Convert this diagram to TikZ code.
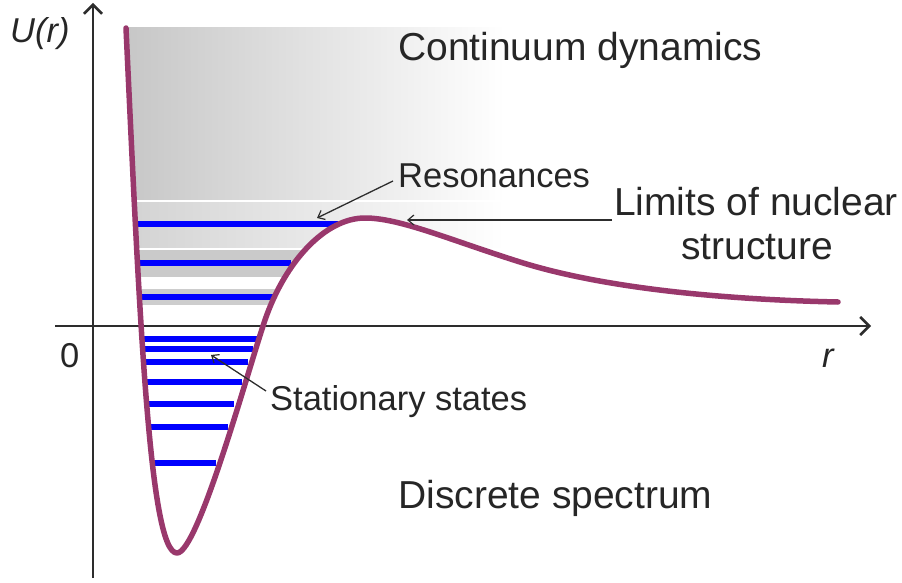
\documentclass[tikz,border=0pt]{standalone}
\usepackage{fontspec}
\setmainfont{Liberation Sans}
\usetikzlibrary{arrows.meta}
\definecolor{curvecol}{RGB}{153,56,108}
\definecolor{txt}{RGB}{38,38,38}
\definecolor{axcol}{RGB}{45,45,45}
\definecolor{lvl}{RGB}{0,0,255}
\definecolor{gA}{RGB}{198,198,198}
\definecolor{gB}{RGB}{210,210,210}
\definecolor{gC}{RGB}{202,202,202}
\definecolor{gD}{RGB}{205,205,205}
\tikzset{
  axisline/.style={draw=axcol,line width=2.7pt,-{Straight Barb[length=9pt,width=18pt,line width=2.5pt]}},
  pointer/.style={draw=axcol,line width=1.3pt,-{Straight Barb[length=6pt,width=10pt,line width=1.2pt]}},
  level/.style={draw=lvl,line width=5.2pt},
  potential/.style={draw=curvecol,line width=5.5pt,line join=round,line cap=round},
  bigtext/.style={text=txt,inner sep=0pt,font=\fontsize{39}{45}\selectfont},
  midtext/.style={text=txt,inner sep=0pt,font=\fontsize{34.5}{40}\selectfont},
}
\begin{document}
\begin{tikzpicture}[x=1pt,y=-1pt]
\useasboundingbox (0,0) rectangle (902,583);
\def\wellcurve{(126,28) .. controls (140,330) and (150,553) .. (177,553)
  .. controls (198,553) and (248,370) .. (265,320)
  .. controls (285,262) and (325,218) .. (365,218)
  .. controls (400,218) and (450,240) .. (520,262)
  .. controls (611,290.6) and (740,300) .. (838,302)}
% shaded regions above the potential
\begin{scope}
\clip \wellcurve -- (838,0) -- (126,0) -- cycle;
\shade[left color=gA,right color=white] (120,28) rectangle (505,199);
\shade[left color=gB,right color=white] (120,202) rectangle (505,247);
\fill[gC] (120,250) rectangle (330,277);
\fill[gD] (120,289) rectangle (310,305);
\end{scope}
% axes
\coordinate (yb) at (93,578);
\coordinate (yt) at (93,3);
\coordinate (xl) at (55,326);
\coordinate (xr) at (871,326);
\draw[axisline] (yb) -- (yt);
\draw[axisline] (xl) -- (xr);
% resonance levels
\draw[level] (137,224) -- (338,224);
\draw[level] (139,263) -- (291,263);
\draw[level] (141,297) -- (274,297);
% stationary levels
\draw[level] (143,339) -- (257,339);
\draw[level] (143,349) -- (253,349);
\draw[level] (145,362) -- (248,362);
\draw[level] (147,382) -- (242,382);
\draw[level] (148,404) -- (234,404);
\draw[level] (150,427) -- (228,427);
\draw[level] (153,463) -- (216,463);
% potential curve
\draw[potential] \wellcurve;
% labels
\node[midtext,anchor=base west,font=\fontsize{34.5}{40}\selectfont\itshape] (ulab) at (10,43) {U(r)};
\node[midtext,anchor=base west] (zero) at (60,367) {0};
\node[midtext,anchor=base west,font=\fontsize{34.5}{40}\selectfont\itshape] (rlab) at (822,367) {r};
\node[bigtext,anchor=base west] (cont) at (398,61) {Continuum dynamics};
\node[midtext,anchor=base west] (reso) at (398,187) {Resonances};
\node[bigtext,anchor=base] (lim) at (756,215) {Limits of nuclear};
\node[bigtext,anchor=base] (struct) at (757,259) {structure};
\node[midtext,anchor=base west] (stat) at (270,410) {Stationary states};
\node[bigtext,anchor=base west] (disc) at (398,508) {Discrete spectrum};
% pointers
\coordinate (resfrom) at (393,181);
\coordinate (resto) at (317,218);
\coordinate (limfrom) at (612,220);
\coordinate (limto) at (407,220);
\coordinate (statfrom) at (266,391);
\coordinate (statto) at (211,355);
\draw[pointer] (resfrom) -- (resto);
\draw[pointer] (limfrom) -- (limto);
\draw[pointer] (statfrom) -- (statto);
\end{tikzpicture}
\end{document}
